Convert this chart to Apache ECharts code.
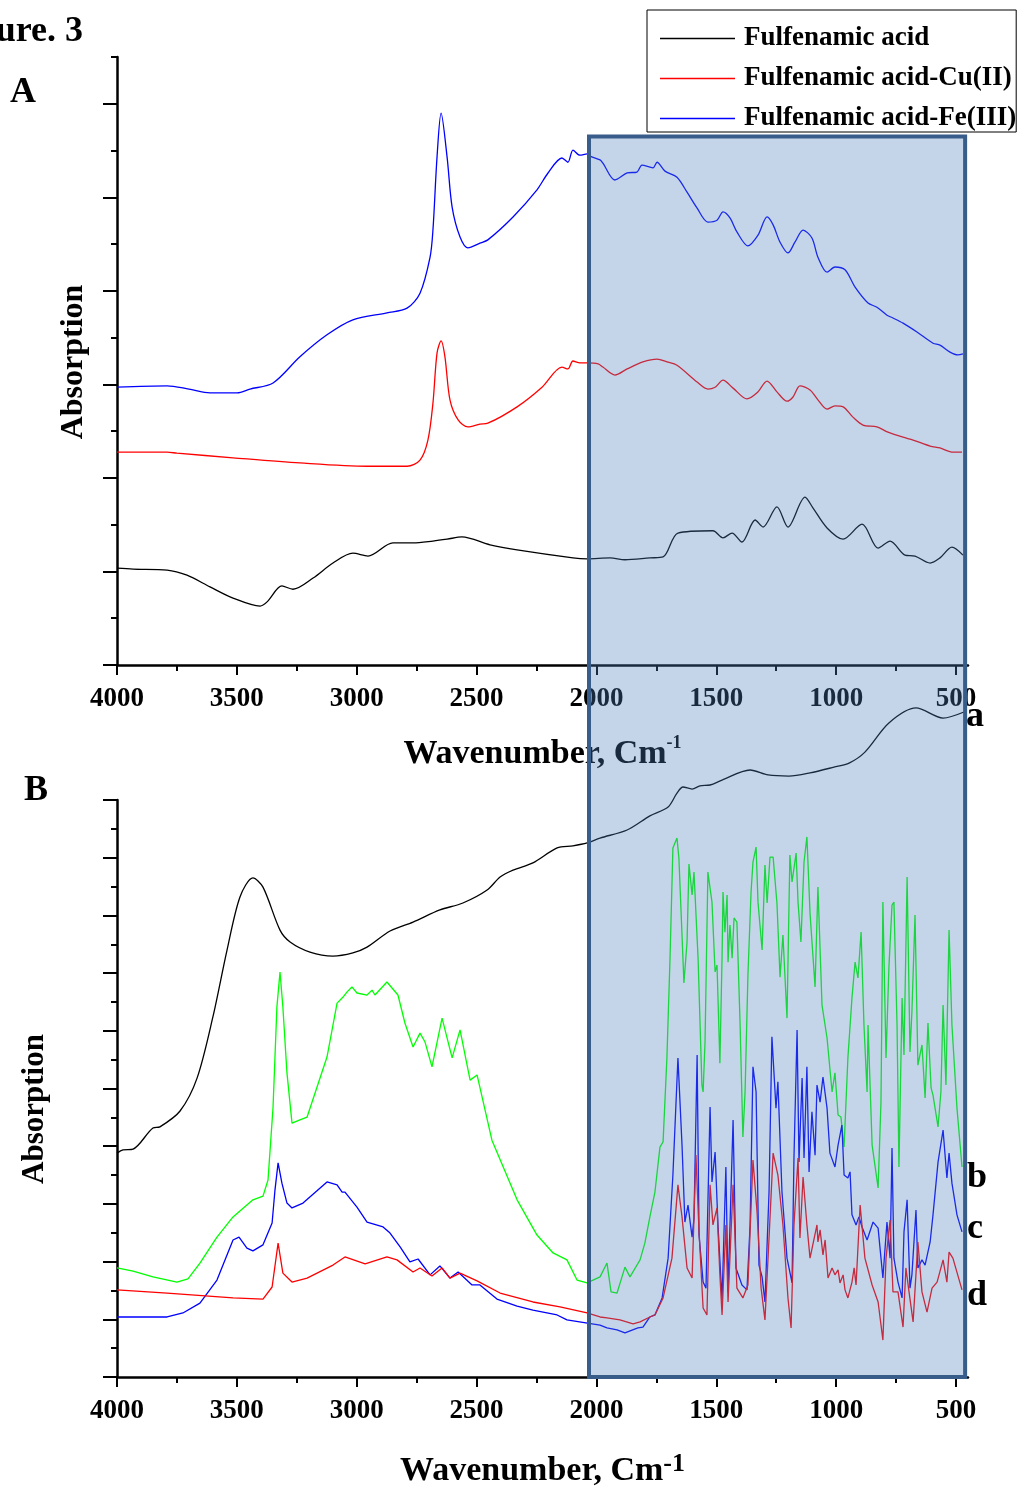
<!DOCTYPE html>
<html><head><meta charset="utf-8">
<script src="https://cdn.jsdelivr.net/npm/echarts@6/dist/echarts.min.js"></script>
<style>html,body{margin:0;padding:0;background:#fff}#c{width:1023px;height:1489px}</style>
</head><body><div id="c"></div><script>
// ---------- tick values ----------
const xMajorTicks = [4000, 3500, 3000, 2500, 2000, 1500, 1000, 500];
const xMinorTicks = [3750, 3250, 2750, 2250, 1750, 1250, 750];
const yMajorA = [0, 2, 4, 6, 8, 10, 12];
const yMajorB = [0, 2, 4, 6, 8, 10, 12, 14, 16, 18, 20];
// shaded region (cm-1) and its top (panel A units)
const shadeFrom = 2031, shadeTo = 462, shadeTopA = 11.3;

// ---------- Panel A ----------
const acidA = [[4000,2.07],[3933,2.05],[3791,2.03],[3708,1.92],[3612,1.67],[3516,1.43],[3403,1.26],[3374,1.35],[3312,1.69],[3266,1.62],[3182,1.86],[3099,2.18],[3016,2.39],[2953,2.33],[2849,2.61],[2765,2.61],[2682,2.65],[2623,2.69],[2561,2.74],[2444,2.57],[2331,2.46],[2098,2.29],[2039,2.27],[1943,2.29],[1881,2.25],[1777,2.29],[1722,2.31],[1660,2.82],[1514,2.87],[1472,2.72],[1434,2.82],[1393,2.63],[1338,3.10],[1305,2.95],[1247,3.38],[1201,2.95],[1130,3.59],[1097,3.36],[1038,2.93],[971,2.69],[892,3.01],[825,2.50],[775,2.65],[713,2.35],[671,2.33],[608,2.18],[567,2.29],[517,2.52],[471,2.35]];
const cuA = [[4000,4.55],[3791,4.55],[3750,4.53],[3516,4.43],[3237,4.32],[2957,4.25],[2790,4.25],[2736,4.38],[2703,4.81],[2682,5.60],[2665,6.67],[2648,6.93],[2632,6.59],[2611,5.67],[2577,5.24],[2536,5.09],[2486,5.15],[2453,5.17],[2331,5.52],[2227,5.94],[2144,6.37],[2119,6.33],[2098,6.50],[2069,6.46],[2039,6.46],[1993,6.44],[1973,6.37],[1923,6.20],[1872,6.33],[1806,6.48],[1747,6.54],[1706,6.48],[1664,6.41],[1580,6.05],[1535,5.90],[1505,5.94],[1472,6.09],[1430,5.92],[1372,5.69],[1330,5.82],[1288,6.07],[1247,5.84],[1205,5.64],[1180,5.73],[1151,5.97],[1109,5.88],[1076,5.67],[1038,5.47],[1005,5.54],[971,5.52],[930,5.30],[888,5.13],[830,5.09],[784,4.98],[721,4.87],[679,4.81],[608,4.68],[567,4.64],[512,4.55],[475,4.55]];
const feA = [[4000,5.94],[3791,5.97],[3700,5.90],[3612,5.82],[3499,5.82],[3445,5.90],[3349,6.03],[3237,6.59],[3124,7.06],[3016,7.38],[2874,7.53],[2790,7.63],[2736,7.95],[2694,8.72],[2682,9.30],[2665,10.86],[2648,11.80],[2623,10.86],[2602,9.79],[2569,9.15],[2536,8.92],[2486,9.02],[2453,9.09],[2348,9.58],[2248,10.16],[2202,10.52],[2144,10.84],[2119,10.75],[2098,11.01],[2069,10.90],[2039,10.93],[2027,10.88],[1985,10.80],[1973,10.73],[1923,10.37],[1872,10.52],[1831,10.54],[1810,10.69],[1764,10.63],[1747,10.75],[1714,10.56],[1664,10.43],[1622,10.11],[1580,9.77],[1535,9.47],[1497,9.51],[1472,9.69],[1443,9.56],[1414,9.26],[1368,8.96],[1326,9.19],[1288,9.58],[1263,9.41],[1234,9.04],[1201,8.81],[1172,9.04],[1138,9.30],[1101,9.13],[1076,8.72],[1038,8.40],[1005,8.51],[963,8.45],[921,8.08],[867,7.74],[830,7.65],[788,7.48],[763,7.42],[721,7.31],[663,7.12],[596,6.88],[567,6.84],[525,6.69],[492,6.63],[471,6.65]];

// ---------- Panel B ----------
const curveBa = [[4000,7.76],[3975,7.87],[3933,7.90],[3850,8.63],[3821,8.67],[3737,9.22],[3666,10.36],[3600,12.48],[3541,14.80],[3487,16.64],[3433,17.30],[3391,16.98],[3320,15.49],[3278,15.08],[3195,14.73],[3099,14.59],[3016,14.70],[2957,14.90],[2861,15.46],[2765,15.77],[2653,16.19],[2557,16.43],[2456,16.88],[2402,17.33],[2348,17.57],[2265,17.82],[2164,18.34],[2098,18.41],[2039,18.51],[1985,18.68],[1872,18.96],[1777,19.45],[1701,19.76],[1664,20.24],[1639,20.45],[1601,20.38],[1568,20.49],[1526,20.52],[1476,20.69],[1359,21.04],[1284,20.87],[1197,20.83],[1109,20.94],[1009,21.14],[946,21.28],[880,21.66],[780,22.67],[667,23.19],[554,22.84],[467,23.05]];
const curveBb = [[4000,3.78],[3933,3.67],[3850,3.47],[3750,3.29],[3704,3.40],[3654,3.95],[3583,4.85],[3516,5.55],[3433,6.14],[3391,6.27],[3370,6.83],[3349,9.36],[3333,12.82],[3320,14.04],[3308,12.82],[3291,10.54],[3270,8.80],[3237,8.91],[3207,9.01],[3124,11.09],[3082,12.96],[3057,13.17],[3041,13.34],[3020,13.52],[2999,13.31],[2957,13.24],[2936,13.41],[2924,13.24],[2874,13.69],[2828,13.24],[2799,12.27],[2765,11.44],[2736,11.92],[2715,11.61],[2686,10.75],[2644,12.44],[2602,11.06],[2569,12.03],[2527,10.29],[2498,10.47],[2436,8.21],[2331,6.14],[2248,4.92],[2181,4.30],[2123,4.06],[2081,3.36],[2039,3.26],[1985,3.47],[1956,3.95],[1939,2.95],[1914,2.91],[1881,3.81],[1860,3.47],[1818,4.06],[1798,4.64],[1777,5.55],[1756,6.41],[1735,7.97],[1722,8.15],[1706,11.06],[1693,14.52],[1681,18.34],[1664,18.68],[1656,17.99],[1643,15.32],[1635,13.66],[1622,15.08],[1614,17.78],[1601,16.71],[1593,17.50],[1585,17.47],[1576,14.52],[1560,10.12],[1555,9.88],[1547,11.61],[1535,17.50],[1518,16.46],[1505,14.04],[1497,14.28],[1485,10.88],[1476,14.52],[1472,16.81],[1464,15.42],[1455,16.71],[1451,14.38],[1443,15.67],[1434,14.52],[1426,15.91],[1414,15.77],[1401,12.31],[1389,8.32],[1380,9.88],[1368,13.93],[1355,16.81],[1347,17.85],[1334,18.37],[1326,16.46],[1309,14.80],[1297,17.75],[1288,16.43],[1276,18.02],[1263,18.02],[1247,16.43],[1234,13.86],[1222,15.32],[1205,12.44],[1193,18.09],[1184,17.16],[1167,18.16],[1159,16.46],[1147,15.08],[1134,17.85],[1122,18.72],[1109,16.08],[1088,13.52],[1076,16.98],[1059,12.89],[1038,11.75],[1017,9.88],[1005,10.54],[992,9.08],[980,9.01],[967,7.97],[951,11.06],[934,13.14],[921,14.38],[909,13.83],[896,15.42],[884,12.20],[871,9.88],[867,12.20],[850,8.04],[825,6.55],[813,9.53],[805,16.46],[792,11.06],[780,14.18],[767,16.36],[759,16.46],[746,12.20],[738,7.28],[725,13.14],[717,11.16],[704,17.33],[692,11.27],[684,12.65],[671,16.01],[659,10.81],[642,11.51],[629,9.67],[617,12.27],[604,10.02],[596,9.77],[575,8.67],[563,9.88],[554,12.89],[542,10.12],[529,15.49],[517,12.20],[496,9.32],[475,7.28]];
const curveBc = [[4000,2.08],[3791,2.08],[3725,2.22],[3654,2.56],[3583,3.36],[3516,4.75],[3491,4.85],[3458,4.47],[3433,4.37],[3391,4.58],[3353,5.34],[3341,6.48],[3328,7.42],[3312,6.72],[3291,6.03],[3270,5.86],[3224,6.03],[3124,6.76],[3082,6.66],[3061,6.41],[3049,6.41],[2999,5.89],[2957,5.37],[2890,5.20],[2861,4.99],[2819,4.51],[2778,3.99],[2744,4.09],[2694,3.54],[2653,3.85],[2611,3.43],[2577,3.64],[2519,3.19],[2486,3.19],[2415,2.70],[2331,2.46],[2265,2.32],[2164,2.15],[2123,1.98],[1985,1.80],[1956,1.70],[1914,1.63],[1881,1.53],[1827,1.70],[1806,1.73],[1777,2.08],[1756,2.15],[1726,2.74],[1701,4.12],[1681,7.00],[1660,11.06],[1643,8.04],[1631,5.37],[1618,5.96],[1601,4.85],[1593,5.51],[1580,11.16],[1572,4.92],[1555,3.29],[1543,3.08],[1526,9.36],[1518,6.76],[1505,7.80],[1493,5.27],[1476,2.67],[1460,7.28],[1451,2.95],[1430,8.91],[1418,3.78],[1393,3.19],[1372,3.02],[1359,5.27],[1347,10.75],[1334,9.88],[1322,3.88],[1309,3.47],[1297,2.60],[1280,6.41],[1268,11.79],[1251,9.32],[1243,10.23],[1226,6.41],[1205,4.12],[1184,3.26],[1176,7.59],[1163,12.03],[1155,7.45],[1142,10.36],[1134,7.59],[1122,10.75],[1113,7.11],[1101,9.19],[1088,7.69],[1080,10.12],[1067,9.53],[1055,10.40],[1038,9.32],[1026,7.76],[1005,7.28],[992,8.04],[976,8.73],[967,7.00],[951,6.90],[942,7.11],[934,5.62],[917,5.27],[905,5.55],[892,5.20],[871,4.75],[846,5.37],[825,5.16],[805,3.43],[788,5.37],[775,4.12],[767,7.94],[759,4.12],[742,3.29],[725,2.74],[717,5.03],[704,6.14],[692,3.08],[684,3.54],[667,5.79],[659,3.78],[642,4.06],[629,3.88],[608,4.68],[596,5.62],[575,7.45],[554,8.56],[538,6.90],[529,7.76],[517,6.72],[496,5.62],[475,5.03]];
const curveBd = [[4000,3.02],[3791,2.91],[3516,2.74],[3391,2.70],[3353,3.12],[3328,4.64],[3308,3.60],[3270,3.29],[3207,3.43],[3099,3.88],[3049,4.16],[2965,3.92],[2874,4.16],[2832,4.06],[2765,3.64],[2736,3.78],[2686,3.50],[2644,3.78],[2611,3.43],[2569,3.60],[2498,3.33],[2402,2.91],[2265,2.60],[2152,2.43],[2039,2.22],[1985,2.08],[1956,2.05],[1902,1.98],[1847,1.84],[1818,1.91],[1777,2.08],[1756,2.15],[1722,2.74],[1685,4.12],[1660,6.66],[1643,5.55],[1622,3.78],[1601,3.43],[1585,7.69],[1572,5.03],[1555,2.39],[1539,2.15],[1526,6.66],[1514,5.27],[1497,5.86],[1485,3.54],[1476,2.15],[1460,5.27],[1451,2.60],[1430,6.66],[1414,3.08],[1389,2.74],[1368,3.19],[1347,7.52],[1330,5.72],[1313,3.08],[1297,1.98],[1280,4.82],[1263,7.76],[1243,7.00],[1222,5.27],[1201,2.74],[1188,1.70],[1176,5.27],[1159,7.59],[1151,4.82],[1138,6.93],[1122,5.27],[1109,4.12],[1080,5.27],[1076,4.68],[1067,5.10],[1055,4.23],[1046,4.75],[1034,3.43],[1017,3.78],[1005,3.54],[992,3.71],[984,3.26],[971,3.54],[963,3.02],[951,2.74],[934,3.29],[925,3.78],[917,3.19],[900,5.96],[880,4.12],[850,3.19],[825,2.60],[805,1.28],[792,4.12],[775,5.44],[763,2.95],[742,2.95],[721,1.73],[709,3.78],[696,2.95],[679,1.91],[659,4.68],[642,2.95],[621,2.25],[600,3.08],[579,3.29],[554,4.06],[538,3.29],[529,4.33],[513,4.12],[475,3.02]];

const FONT = '"Liberation Serif","Times New Roman",serif';
const chart = echarts.init(document.getElementById('c'), null, {renderer: 'canvas'});

function xMain(grid, gap, supSize, supPad) {
  return {
    gridIndex: grid, type: 'value', min: 450, max: 4000, inverse: true, position: 'bottom',
    axisLine: {show: true, onZero: false, lineStyle: {color: '#000', width: 2.5}},
    axisTick: {show: true, customValues: xMajorTicks, length: 10, lineStyle: {color: '#000', width: 2}},
    axisLabel: {show: true, customValues: xMajorTicks, formatter: function (v) { return String(v); },
      color: '#000', fontFamily: FONT, fontWeight: 'bold', fontSize: 27, margin: 21},
    splitLine: {show: false},
    name: '{t|Wavenumber, Cm}{s|-1}', nameLocation: 'middle', nameGap: gap,
    nameTextStyle: {rich: {
      t: {fontFamily: FONT, fontWeight: 'bold', fontSize: 34, color: '#000', lineHeight: 40},
      s: {fontFamily: FONT, fontWeight: 'bold', fontSize: supSize, color: '#000', verticalAlign: 'top', lineHeight: 40, padding: [0, 0, supPad, 0]}
    }}
  };
}
function xMinor(grid) {
  return {
    gridIndex: grid, type: 'value', min: 450, max: 4000, inverse: true, position: 'bottom', offset: 0,
    axisLine: {show: false},
    axisTick: {show: true, customValues: xMinorTicks, length: 6, lineStyle: {color: '#000', width: 2}},
    axisLabel: {show: false}, splitLine: {show: false}
  };
}
function yMain(grid, max) {
  return {
    gridIndex: grid, type: 'value', min: 0, max: max, interval: 1, position: 'left',
    axisLine: {show: true, onZero: false, lineStyle: {color: '#000', width: 2.5}},
    axisTick: {show: true, length: 6, lineStyle: {color: '#000', width: 2}},
    axisLabel: {show: false}, splitLine: {show: false}
  };
}
function yMajor(grid, max, vals) {
  return {
    gridIndex: grid, type: 'value', min: 0, max: max, position: 'left', offset: 0,
    axisLine: {show: false},
    axisTick: {show: true, customValues: vals, length: 14, lineStyle: {color: '#000', width: 2}},
    axisLabel: {show: false}, splitLine: {show: false}
  };
}
function line(name, data, color, xi, yi, smooth) {
  return {
    name: name, type: 'line', data: data, xAxisIndex: xi, yAxisIndex: yi,
    symbol: 'none', showSymbol: false, smooth: smooth, clip: false,
    lineStyle: {color: color, width: 1.3}, itemStyle: {color: color},
    animation: false
  };
}

chart.setOption({
  animation: false,
  backgroundColor: '#fff',
  grid: [
    {left: 117, top: 57, width: 851, height: 608, containLabel: false, outerBoundsMode: 'none'},
    {left: 117, top: 800, width: 851, height: 577, containLabel: false, outerBoundsMode: 'none'}
  ],
  xAxis: [xMain(0, 69, 18, 18), xMinor(0), xMain(1, 74, 26, 14), xMinor(1)],
  yAxis: [yMain(0, 13), yMajor(0, 13, yMajorA), yMain(1, 20), yMajor(1, 20, yMajorB)],
  legend: {
    data: ['Fulfenamic acid', 'Fulfenamic acid-Cu(II)', 'Fulfenamic acid-Fe(III)'],
    orient: 'vertical', left: 647, top: 10, padding: [15, 0, 0, 13],
    icon: 'rect', itemWidth: 75, itemHeight: 1.3, itemGap: 13,
    borderColor: '#000', borderWidth: 1, backgroundColor: '#fff',
    textStyle: {fontFamily: FONT, fontWeight: 'bold', fontSize: 27, color: '#000', lineHeight: 27, padding: [0, 0, 0, 4]}
  },
  series: [
    line('Fulfenamic acid', acidA, '#000000', 0, 0, 0.3),
    line('Fulfenamic acid-Cu(II)', cuA, '#ff0000', 0, 0, 0.3),
    line('Fulfenamic acid-Fe(III)', feA, '#0000ff', 0, 0, 0.3),
    line('a', curveBa, '#000000', 2, 2, 0.3),
    line('b', curveBb, '#00ff00', 2, 2, false),
    line('c', curveBc, '#0000ff', 2, 2, false),
    line('d', curveBd, '#ff0000', 2, 2, false)
  ]
});

const px0 = chart.convertToPixel({xAxisIndex: 0}, shadeFrom);
const px1 = chart.convertToPixel({xAxisIndex: 0}, shadeTo);
const py0 = chart.convertToPixel({yAxisIndex: 0}, shadeTopA);
const py1 = chart.convertToPixel({yAxisIndex: 2}, 0);

function txt(text, x, y, size, align, extra) {
  return Object.assign({type: 'text', x: x, y: y, z: 50, style: {text: text, fontFamily: FONT, fontWeight: 'bold', fontSize: size, fill: '#000', textAlign: align || 'left', textVerticalAlign: 'middle'}}, extra || {});
}

chart.setOption({
  graphic: [
    txt('Figure. 3', 83, 32, 36, 'right'),
    txt('A', 10, 93, 36),
    txt('B', 24, 791, 36),
    txt('Absorption', 74, 362, 32, 'center', {rotation: Math.PI / 2}),
    txt('Absorption', 35, 1109, 31, 'center', {rotation: Math.PI / 2}),
    txt('a', 966, 717, 36),
    txt('b', 967, 1178, 36),
    txt('c', 967, 1229, 36),
    txt('d', 967, 1296, 36),
    {type: 'rect', z: 100, shape: {x: px0, y: py0, width: px1 - px0, height: py1 - py0},
     style: {fill: 'rgba(79,129,189,0.33)', stroke: '#385D8A', lineWidth: 4}}
  ]
});
</script></body></html>
